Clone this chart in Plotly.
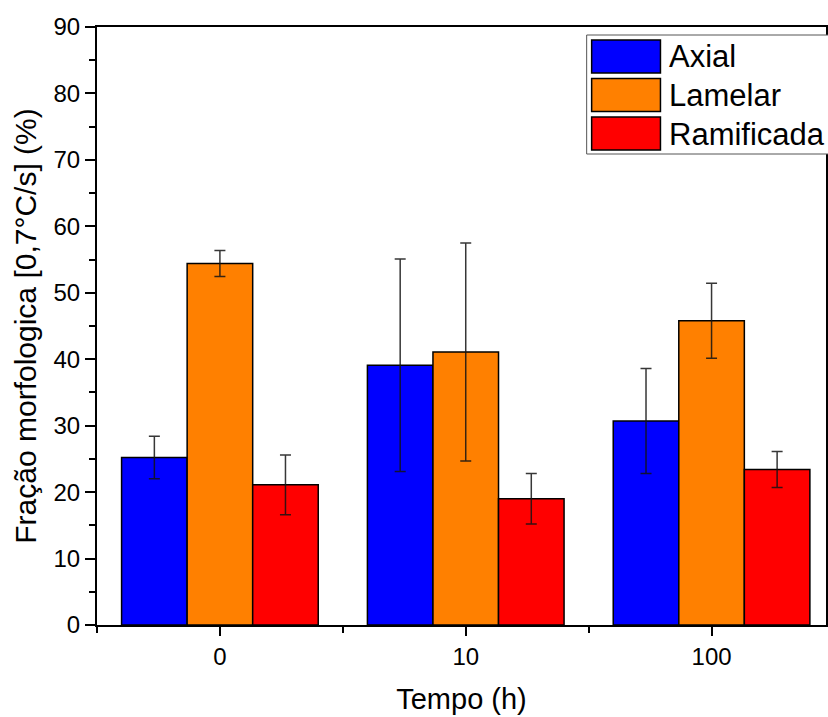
import plotly.graph_objects as go

# Morphological fraction per cooling hold time
categories = ["0", "10", "100"]
series_names = ["Axial", "Lamelar", "Ramificada"]
axial = [25.2, 39.1, 30.7]
axial_err = [3.2, 16.0, 7.9]
lamelar = [54.4, 41.1, 45.8]
lamelar_err = [1.95, 16.4, 5.65]
ramificada = [21.1, 19.0, 23.4]
ramificada_err = [4.5, 3.8, 2.7]
colors = ["#0000FF", "#FF8000", "#FF0000"]

FONT = "Liberation Sans, Arial, sans-serif"
xpos = list(range(len(categories)))

fig = go.Figure()
for name, vals, errs, col in zip(series_names,
                                 [axial, lamelar, ramificada],
                                 [axial_err, lamelar_err, ramificada_err],
                                 colors):
    fig.add_trace(go.Bar(
        x=xpos, y=vals, name=name,
        marker=dict(color=col, line=dict(color="black", width=1.5)),
        error_y=dict(type="data", array=errs, visible=True,
                     color="rgba(20,20,20,0.85)", thickness=1.5, width=5.5),
        showlegend=False,
    ))

# Legend drawn as a boxed key with large swatches
W, H = 828, 717
ml, mr, mt, mb = 97, 0, 27, 92
pw, ph = W - ml - mr, H - mt - mb

def px_x(px):
    return (px - ml) / pw

def px_y(py):
    return 1 - (py - mt) / ph

shapes = [dict(type="rect", xref="paper", yref="paper",
               x0=px_x(588), x1=px_x(840), y0=px_y(154), y1=px_y(35),
               line=dict(color="#555555", width=1), fillcolor="white", layer="above")]
annotations = []
for i, (name, col) in enumerate(zip(series_names, colors)):
    top = 40 + i * 38.5
    shapes.append(dict(type="rect", xref="paper", yref="paper",
                       x0=px_x(593), x1=px_x(662), y0=px_y(top + 33), y1=px_y(top),
                       line=dict(color="black", width=1.5), fillcolor=col, layer="above"))
    annotations.append(dict(text=name, xref="paper", yref="paper",
                            x=px_x(669), y=px_y(top + 17), xanchor="left", yanchor="middle",
                            showarrow=False, font=dict(family=FONT, size=31, color="black")))

fig.update_layout(
    width=W, height=H,
    margin=dict(l=ml, r=mr, t=mt, b=mb),
    paper_bgcolor="white", plot_bgcolor="white",
    barmode="group", bargap=0.2, bargroupgap=0,
    font=dict(family=FONT, color="black"),
    shapes=shapes, annotations=annotations,
)
fig.update_xaxes(
    range=[-0.5, -0.5 + pw / 246.5],
    tickvals=xpos, ticktext=categories,
    showline=True, linecolor="black", linewidth=2, mirror=True,
    ticks="outside", ticklen=9, tickwidth=2, tickcolor="black",
    minor=dict(dtick=0.5, tick0=-0.5, ticks="outside", ticklen=6, tickwidth=2, tickcolor="black"),
    tickfont=dict(family=FONT, size=24),
    showgrid=False, zeroline=False,
    title=dict(text="Tempo (h)", font=dict(family=FONT, size=29), standoff=20),
)
fig.update_yaxes(
    range=[0, 90], dtick=10, tick0=0,
    showline=True, linecolor="black", linewidth=2, mirror=True,
    ticks="outside", ticklen=10, tickwidth=2, tickcolor="black",
    minor=dict(dtick=5, ticks="outside", ticklen=6, tickwidth=2, tickcolor="black"),
    tickfont=dict(family=FONT, size=24),
    showgrid=False, zeroline=False,
    title=dict(text="Fração morfologica [0,7°C/s] (%)", font=dict(family=FONT, size=30), standoff=8),
)

fig.write_html("out.html")
